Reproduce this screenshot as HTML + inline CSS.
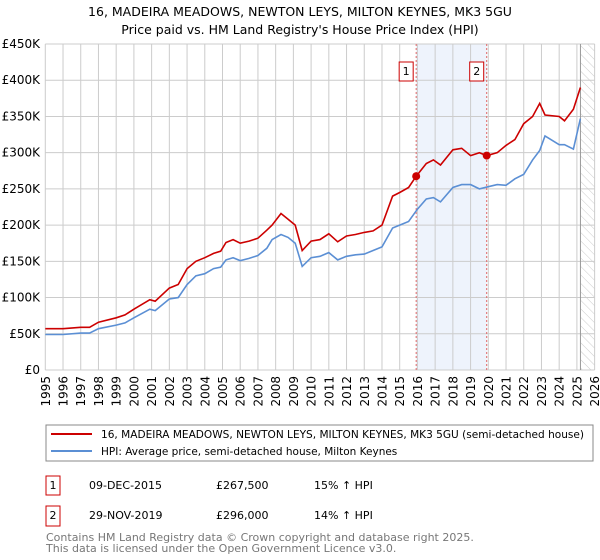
<!DOCTYPE html>
<html><head><meta charset="utf-8"><style>
body{margin:0;width:600px;height:560px;background:#fff;font-family:"Liberation Sans","DejaVu Sans",sans-serif;overflow:hidden}
svg{display:block}
</style></head><body>
<svg id="chart" width="600" height="560" font-family="DejaVu Sans, Liberation Sans, sans-serif">
<text x="300" y="16" text-anchor="middle" font-size="12.5" fill="#000">16, MADEIRA MEADOWS, NEWTON LEYS, MILTON KEYNES, MK3 5GU</text>
<text x="300" y="34" text-anchor="middle" font-size="12.5" fill="#000">Price paid vs. HM Land Registry's House Price Index (HPI)</text>
<g id="plot"></g>
<rect x="46" y="425" width="547" height="36" fill="#fff" stroke="#888"/>
<line x1="51" y1="434" x2="92" y2="434" stroke="#cc0000" stroke-width="2"/>
<text x="101" y="438" font-size="10.5" textLength="483" lengthAdjust="spacingAndGlyphs">16, MADEIRA MEADOWS, NEWTON LEYS, MILTON KEYNES, MK3 5GU (semi-detached house)</text>
<line x1="51" y1="451" x2="92" y2="451" stroke="#5b8fd4" stroke-width="2"/>
<text x="101" y="455" font-size="10.5">HPI: Average price, semi-detached house, Milton Keynes</text>
<g font-size="11">
<rect x="46" y="476" width="14" height="19" fill="#fff" stroke="#cc0000"/>
<text x="53" y="489" text-anchor="middle">1</text>
<text x="89" y="489">09-DEC-2015</text>
<text x="216" y="489">£267,500</text>
<text x="314" y="489">15% ↑ HPI</text>
<rect x="46" y="506" width="14" height="20" fill="#fff" stroke="#cc0000"/>
<text x="53" y="519" text-anchor="middle">2</text>
<text x="89" y="519">29-NOV-2019</text>
<text x="216" y="519">£296,000</text>
<text x="314" y="519">14% ↑ HPI</text>
</g>
<text x="46" y="541" font-size="11" fill="#777">Contains HM Land Registry data © Crown copyright and database right 2025.</text>
<text x="46" y="552" font-size="11" fill="#777">This data is licensed under the Open Government Licence v3.0.</text>
</svg>
<script>
const years=[1995,1996,1997,1998,1999,2000,2001,2002,2003,2004,2005,2006,2007,2008,2009,2010,2011,2012,2013,2014,2015,2016,2017,2018,2019,2020,2021,2022,2023,2024,2025,2026];
const yTicks=[0,50,100,150,200,250,300,350,400,450];
const yTickLabels=["£0","£50K","£100K","£150K","£200K","£250K","£300K","£350K","£400K","£450K"];
const hpiT=[1995,1996,1997,1997.5,1998,1999,1999.5,2000,2000.9,2001.2,2002,2002.5,2003,2003.5,2004,2004.5,2004.9,2005.2,2005.6,2006,2006.5,2007,2007.5,2007.8,2008.3,2008.7,2009.1,2009.5,2010,2010.5,2011,2011.5,2012,2012.5,2013,2013.5,2014,2014.6,2015,2015.5,2016,2016.5,2016.9,2017.3,2018,2018.5,2019,2019.5,2020,2020.5,2021,2021.5,2022,2022.5,2022.9,2023.2,2024,2024.3,2024.8,2025.2];
const hpiV=[49,49,51,51,57,62,65,72,84,82,98,100,118,130,133,140,142,152,155,151,154,158,168,180,187,183,175,143,155,157,162,152,157,159,160,165,170,196,200,205,222,236,238,232,252,256,256,250,253,256,255,264,270,290,303,323,311,311,305,347];
const priceT=[1995,1996,1997,1997.5,1998,1999,1999.5,2000,2000.9,2001.2,2002,2002.5,2003,2003.5,2004,2004.5,2004.9,2005.2,2005.6,2006,2006.5,2007,2007.5,2007.8,2008.3,2008.7,2009.1,2009.5,2010,2010.5,2011,2011.5,2012,2012.5,2013,2013.5,2014,2014.6,2015,2015.5,2015.93,2016.5,2016.9,2017.3,2018,2018.5,2019,2019.5,2019.91,2020.5,2021,2021.5,2022,2022.5,2022.9,2023.2,2024,2024.3,2024.8,2025.2];
const priceV=[57,57,59,59,66,72,76,84,97,95,113,118,140,150,155,161,164,176,180,175,178,182,193,200,216,208,200,165,178,180,188,177,185,187,190,192,200,240,245,252,267.5,285,290,283,304,306,296,300,296,300,310,318,340,350,368,352,350,344,360,390];
const sales=[{n:1,t:2015.93,v:267.5},{n:2,t:2019.91,v:296}];
const X=t=>45.3+(t-1995)*17.72, Y=v=>370-v*0.7244;
const NS="http://www.w3.org/2000/svg", g=document.getElementById('plot');
function mk(tag,a,p){const e=document.createElementNS(NS,tag);for(const k in a)e.setAttribute(k,a[k]);(p||g).appendChild(e);return e;}
const sh=mk('rect',{x:X(sales[0].t),y:Y(450),width:X(sales[1].t)-X(sales[0].t),height:Y(0)-Y(450),fill:'#eef3fc'});


const defs=mk('defs',{});
const pat=mk('pattern',{id:'hatch',width:6,height:6,patternUnits:'userSpaceOnUse',patternTransform:'rotate(-45)'},defs);
mk('line',{x1:0,y1:0,x2:0,y2:6,stroke:'#ccc','stroke-width':1},pat);
const hr=mk('rect',{x:X(2025.2),y:Y(450),width:X(2026)-X(2025.2),height:Y(0)-Y(450),fill:'url(#hatch)'});


years.forEach(yr=>{
 const l=mk('line',{x1:X(yr),y1:Y(450),x2:X(yr),y2:Y(0),stroke:'#ccc','stroke-width':1});
 
 
 const t=mk('text',{x:0,y:0,transform:`translate(${X(yr)+4.5},${376}) rotate(-90)`,'text-anchor':'end','font-size':12});
 
 
 t.textContent=yr;
});
yTicks.forEach((v,i)=>{
 const l=mk('line',{x1:X(1995),y1:Y(v),x2:X(2026),y2:Y(v),stroke:'#ccc','stroke-width':1});
 
 
 const t=mk('text',{x:40,y:Y(v)+4,'text-anchor':'end','font-size':12});
 
 
 t.textContent=yTickLabels[i];
});
const el=mk('line',{x1:X(2025.2),y1:Y(450),x2:X(2025.2),y2:Y(0),stroke:'#999','stroke-width':1});


sales.forEach(s=>{
 const l=mk('line',{x1:X(s.t),y1:Y(450),x2:X(s.t),y2:Y(0),stroke:'#e06666','stroke-width':1,'stroke-dasharray':'2,2'});
 
 
 const r=mk('rect',{x:X(s.t)-17,y:62,width:14,height:19,fill:'#fff',stroke:'#cc0000'});
 
 
 const t=mk('text',{x:X(s.t)-10,y:75,'text-anchor':'middle','font-size':11});
 
 
 t.textContent=s.n;
});
const pts=(T,V)=>T.map((t,i)=>X(t).toFixed(1)+','+Y(V[i]).toFixed(1)).join(' ');
const hl=mk('polyline',{points:pts(hpiT,hpiV),fill:'none',stroke:'#5b8fd4','stroke-width':1.6});


const pl=mk('polyline',{points:pts(priceT,priceV),fill:'none',stroke:'#cc0000','stroke-width':1.6});


sales.forEach(s=>{
 const c=mk('circle',{cx:X(s.t),cy:Y(s.v),r:4,fill:'#cc0000'});
 
 
});
</script>
</body></html>
